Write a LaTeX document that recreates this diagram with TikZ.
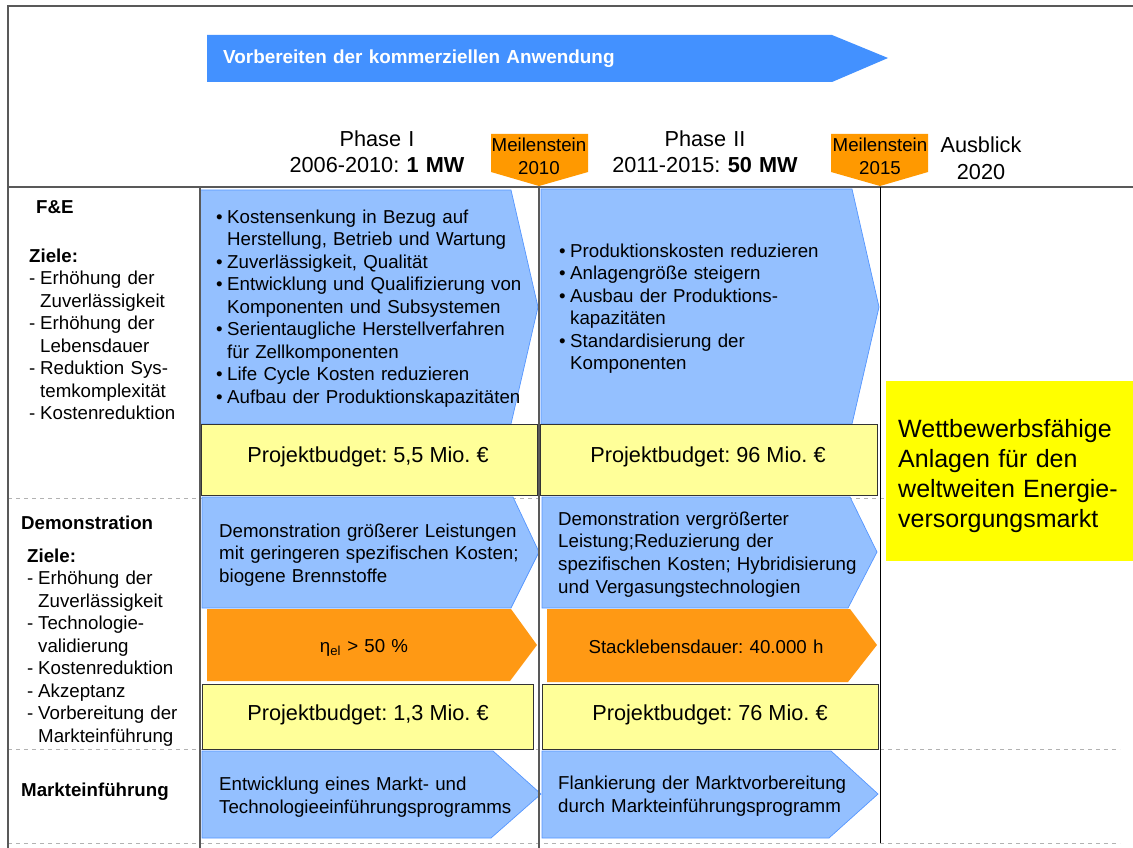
\documentclass[tikz,border=0pt]{standalone}
\usepackage{fontspec}
\setmainfont{Liberation Sans}
\usepackage{xcolor}
\usetikzlibrary{positioning}
\frenchspacing
\definecolor{bannerblue}{RGB}{67,145,255}
\definecolor{chevblue}{RGB}{148,192,255}
\definecolor{chevedge}{RGB}{85,150,255}
\definecolor{goalorange}{RGB}{255,153,20}
\definecolor{msorange}{RGB}{255,153,0}
\definecolor{budgetyellow}{RGB}{255,255,153}
\definecolor{visionyellow}{RGB}{255,255,0}
\newcommand\fsize[2]{\fontsize{#1}{#2}\selectfont}
\newcommand\bitem[1]{\hangindent=11pt\hangafter=1\makebox[11pt][l]{\textbullet}#1\par}
\newcommand\ditem[1]{\hangindent=11pt\hangafter=1\makebox[11pt][l]{-}#1\par}

\begin{document}
\begin{tikzpicture}[x=1pt, y=-1pt,
	txt/.style={inner sep=0pt, font=\fsize{18.7}{22.5}, text width=#1, align=left, anchor=base west},
	txt/.default=340pt,
	ctxt/.style={inner sep=0pt, font=\fsize{18.7}{22.5}, text width=#1, align=center, anchor=base},
	ctxt/.default=300pt,
	budget/.style={inner sep=0pt, font=\fsize{21.7}{25}, anchor=base},
	chevron/.style={fill=chevblue, draw=chevedge, line width=0.7pt},
	target/.style={fill=goalorange},
	budgetbox/.style={fill=budgetyellow, draw=black!80, line width=1pt},
	milestone/.style={fill=msorange},
	gridline/.style={draw=black!65, line width=1.3pt},
	rowline/.style={draw=black!30, line width=1pt, dash pattern=on 4pt off 4pt}]
	\useasboundingbox (0,0) rectangle (1133,848);
	\fill[white] (0,0) rectangle (1133,848);

	% rows
	\foreach \y in {498,749,843}
		\draw[rowline] (8,\y) -- (1120,\y);

	% banner
	\fill[bannerblue] (207,35) -- (832,35) -- (888,58) -- (832,82) -- (207,82) -- cycle;
	\node[txt=600pt, font=\fsize{18.9}{22}\bfseries, text=white] (banner) at (223,64) {Vorbereiten der kommerziellen Anwendung};

	% phases
	\node[ctxt=260pt, font=\fsize{21.7}{25}] (phaseI) at (377,147) {Phase I\\2006-2010: \textbf{1 MW}};
	\node[ctxt=260pt, font=\fsize{21.7}{25}] (phaseII) at (705,147) {Phase II\\2011-2015: \textbf{50 MW}};
	\node[ctxt=120pt, font=\fsize{21.7}{27}] (ausblick) at (981,153) {Ausblick\\2020};
	\fill[milestone] (491,134) -- (588,134) -- (588,172) -- (539,186) -- (491,172) -- cycle;
	\fill[milestone] (831,134) -- (928,134) -- (928,172) -- (880,186) -- (831,172) -- cycle;
	\node[ctxt=100pt] (ms2010) at (539,152) {Meilenstein\\2010};
	\node[ctxt=100pt] (ms2015) at (880,152) {Meilenstein\\2015};

	% F&E
	\draw[chevron] (200,190) -- (511,190) -- (538,307) -- (511,424) -- (200,424) -- cycle;
	\draw[chevron] (541,189) -- (852,189) -- (879,307) -- (852,424) -- (541,424) -- cycle;
	\draw[budgetbox] (201,424) rectangle (537,495);
	\draw[budgetbox] (540,424) rectangle (877,495);
	\node[txt=330pt] (feI) at (216,223) {\bitem{Kostensenkung in Bezug auf\newline Herstellung, Betrieb und Wartung}
		\bitem{Zuverlässigkeit, Qualität}
		\bitem{Entwicklung und Qualifizierung von\newline Komponenten und Subsystemen}
		\bitem{Serientaugliche Herstellverfahren\newline für Zellkomponenten}
		\bitem{Life Cycle Kosten reduzieren}
		\bitem{Aufbau der Produktionskapazitäten}};
	\node[txt=310pt] (feII) at (559,257) {\bitem{Produktionskosten reduzieren}
		\bitem{Anlagengröße steigern}
		\bitem{Ausbau der Produktions-\newline kapazitäten}
		\bitem{Standardisierung der\newline Komponenten}};
	\node[budget] (budgetFeI) at (368,462) {Projektbudget: 5,5 Mio.~€};
	\node[budget] (budgetFeII) at (708,462) {Projektbudget: 96 Mio.~€};

	% Demonstration
	\draw[chevron] (202,497) -- (513,497) -- (539,552) -- (511,608) -- (202,608) -- cycle;
	\draw[chevron] (542,497) -- (850,497) -- (877,552) -- (848,608) -- (542,608) -- cycle;
	\fill[target] (207,609) -- (511,609) -- (537,645) -- (510,681) -- (207,681) -- cycle;
	\fill[target] (547,609) -- (850,609) -- (877,645) -- (848,682) -- (547,682) -- cycle;
	\draw[budgetbox] (202,684) rectangle (533,749);
	\draw[budgetbox] (542,684) rectangle (878,749);
	\node[txt=320pt] (demoI) at (219,537) {Demonstration größerer Leistungen\\mit geringeren spezifischen Kosten;\\biogene Brennstoffe};
	\node[txt=320pt, font=\fsize{18.7}{22.7}] (demoII) at (558,525) {Demonstration vergrößerter\\Leistung;Reduzierung der\\spezifischen Kosten; Hybridisierung\\und Vergasungstechnologien};
	\node[ctxt=200pt] (etaI) at (364,652) {η\textsubscript{el} > 50 \%};
	\node[ctxt=300pt] (stackII) at (706,653) {Stacklebensdauer: 40.000 h};
	\node[budget] (budgetDemoI) at (368,720) {Projektbudget: 1,3 Mio.~€};
	\node[budget] (budgetDemoII) at (710,720) {Projektbudget: 76 Mio.~€};

	% Markteinfuehrung
	\draw[chevron] (202,751) -- (493,751) -- (541,794) -- (491,838) -- (202,838) -- cycle;
	\draw[chevron] (542,751) -- (831,751) -- (878,794) -- (829,838) -- (542,838) -- cycle;
	\node[txt=320pt, font=\fsize{18.7}{23}] (marktI) at (219,790) {Entwicklung eines Markt- und\\Technologieeinführungsprogramms};
	\node[txt=320pt, font=\fsize{18.7}{23}] (marktII) at (558,789) {Flankierung der Marktvorbereitung\\durch Markteinführungsprogramm};

	% vision
	\fill[visionyellow] (886,381) rectangle (1133,561);
	\node[txt=240pt, font=\fsize{25}{30}] (vision) at (898,437) {Wettbewerbsfähige\\Anlagen für den\\weltweiten Energie-\\versorgungsmarkt};

	% left column
	\node[txt=170pt, font=\fsize{18.7}{22.5}\bfseries] (feLabel) at (36,213) {F\&E};
	\node[txt=175pt] (feGoals) at (29,262) {\textbf{Ziele:}\par
		\ditem{Erhöhung der\newline Zuverlässigkeit}
		\ditem{Erhöhung der\newline Lebensdauer}
		\ditem{Reduktion Sys-\newline temkomplexität}
		\ditem{Kostenreduktion}};
	\node[txt=170pt, font=\fsize{18.7}{22.5}\bfseries] (demoLabel) at (21,529) {Demonstration};
	\node[txt=175pt] (demoGoals) at (27,562) {\textbf{Ziele:}\par
		\ditem{Erhöhung der\newline Zuverlässigkeit}
		\ditem{Technologie-\newline validierung}
		\ditem{Kostenreduktion}
		\ditem{Akzeptanz}
		\ditem{Vorbereitung der\newline Markteinführung}};
	\node[txt=170pt, font=\fsize{18.7}{22.5}\bfseries] (marktLabel) at (21,796) {Markteinführung};

	% frame
	\draw[gridline] (1133,6) -- (8,6) -- (8,848);
	\draw[gridline] (8,187) -- (1133,187);
	\draw[gridline] (200,187) -- (200,848);
	\draw[gridline] (539,187) -- (539,848);
	\draw[draw=black, line width=1pt] (880,187) -- (880,843);
\end{tikzpicture}
\end{document}
